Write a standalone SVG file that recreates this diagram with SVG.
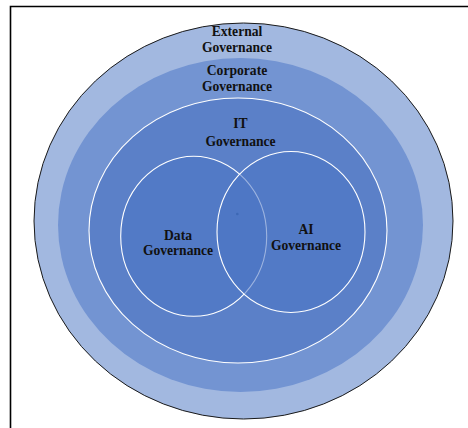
<svg xmlns="http://www.w3.org/2000/svg" width="468" height="428" viewBox="0 0 468 428">
  <style>
    .lbl { font-family: "Liberation Serif", "Times New Roman", serif; font-weight: bold; font-size: 13.6px; fill: #111; text-anchor: middle; }
    .ring { stroke: #ffffff; stroke-width: 1.1; }
  </style>
  <rect x="0" y="0" width="468" height="428" fill="#ffffff"/>
  <!-- frame, open to the right and bottom -->
  <path d="M10.5 440 V6.5 H480" fill="none" stroke="#000" stroke-width="1.6"/>

  <g id="external">
    <ellipse cx="243.5" cy="221" rx="209.5" ry="198" fill="#A2B8E0" stroke="#1a1a1a" stroke-width="1"/>
    <text class="lbl" x="237" y="36">External</text>
    <text class="lbl" x="237" y="52">Governance</text>
  </g>

  <g id="corporate">
    <ellipse cx="240.5" cy="225" rx="182.5" ry="167" fill="#7394D2"/>
    <text class="lbl" x="237" y="75">Corporate</text>
    <text class="lbl" x="237" y="91">Governance</text>
  </g>

  <g id="it">
    <ellipse class="ring" cx="238" cy="230.5" rx="149" ry="132.5" fill="#5B80C8"/>
    <text class="lbl" x="240.5" y="128">IT</text>
    <text class="lbl" x="240.5" y="146">Governance</text>
  </g>

  <g id="data">
    <ellipse class="ring" cx="193.7" cy="236.3" rx="73" ry="80" fill="#4A75C5" fill-opacity="0.55"/>
    <text class="lbl" x="178" y="240">Data</text>
    <text class="lbl" x="178" y="255">Governance</text>
  </g>

  <g id="ai">
    <ellipse class="ring" cx="291" cy="232" rx="74" ry="80.5" fill="#4A75C5" fill-opacity="0.55"/>
    <text class="lbl" x="306" y="234">AI</text>
    <text class="lbl" x="306" y="250">Governance</text>
  </g>

  <circle cx="237.3" cy="214" r="1.3" fill="#3D68B5"/>
</svg>
